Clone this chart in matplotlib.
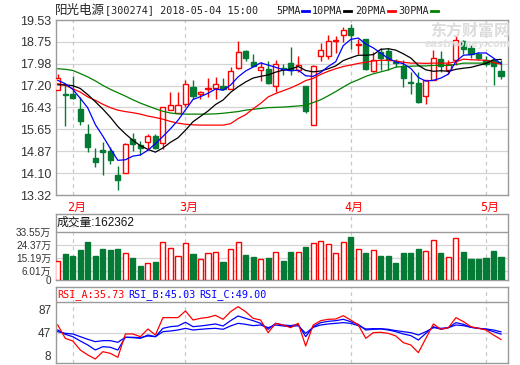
import matplotlib
matplotlib.use('Agg')
import matplotlib.pyplot as plt
import numpy as np
from matplotlib.transforms import blended_transform_factory

# ---------------- data ----------------
opens = [17.03, 16.89, 16.92, 16.37, 15.48, 14.64, 14.93, 14.88, 14.04, 14.11,
         15.31, 15.11, 15.19, 15.40, 15.17, 16.32, 16.24, 16.54, 17.15, 16.89,
         17.07, 17.13, 17.18, 17.09, 17.83, 18.44, 18.04, 17.77, 17.78, 17.18,
         17.81, 18.00, 17.74, 17.19, 15.79, 18.24, 18.24, 18.80, 18.99, 19.25,
         18.64, 18.84, 17.71, 18.39, 18.42, 18.05, 17.89, 17.32, 17.31, 16.82,
         17.41, 18.15, 17.77, 18.12, 18.79, 18.54, 18.34, 18.10, 18.10, 17.72]
highs = [17.60, 17.27, 17.54, 16.80, 15.85, 14.99, 15.20, 15.02, 14.35, 15.16,
         15.52, 15.24, 15.50, 15.47, 16.45, 16.96, 16.96, 17.41, 17.41, 17.01,
         17.47, 17.50, 17.47, 17.86, 18.79, 18.48, 18.34, 18.03, 18.09, 18.10,
         17.98, 18.57, 18.26, 17.19, 17.92, 18.73, 18.99, 18.96, 19.28, 19.40,
         18.87, 18.84, 18.38, 18.54, 18.54, 18.15, 18.10, 17.68, 17.68, 17.41,
         18.48, 18.42, 18.12, 18.96, 18.83, 18.63, 18.39, 18.25, 18.16, 18.12]
lows = [17.03, 15.76, 16.74, 15.81, 14.84, 14.31, 14.04, 14.43, 13.51, 14.11,
        14.87, 14.75, 14.93, 14.96, 14.95, 16.32, 16.24, 16.44, 16.71, 16.73,
        16.80, 16.74, 17.03, 17.09, 17.80, 18.09, 17.89, 17.35, 17.27, 16.99,
        17.57, 17.57, 17.68, 16.23, 15.79, 18.06, 18.16, 18.37, 18.75, 18.49,
        18.34, 17.74, 17.68, 17.74, 17.74, 17.85, 17.15, 16.92, 16.58, 16.54,
        17.39, 17.68, 17.60, 17.92, 18.31, 18.19, 18.10, 17.90, 17.24, 17.45]
closes = [17.47, 16.86, 16.76, 15.95, 15.02, 14.49, 14.83, 14.57, 13.85, 15.12,
          15.14, 15.00, 15.42, 15.00, 16.43, 16.50, 16.50, 17.27, 16.83, 16.96,
          17.11, 17.25, 17.07, 17.72, 18.39, 18.19, 17.91, 17.86, 17.31, 17.96,
          17.79, 17.74, 17.95, 16.30, 17.89, 18.45, 18.79, 18.82, 19.16, 18.99,
          18.67, 17.78, 18.12, 18.19, 18.10, 18.00, 17.47, 17.28, 16.62, 17.41,
          18.17, 17.89, 17.98, 18.83, 18.51, 18.31, 18.19, 17.98, 17.89, 17.54]

ma5 = [17.39, 17.27, 17.07, 16.75, 16.41, 15.82, 15.41, 14.97, 14.55, 14.57,
       14.70, 14.74, 14.91, 15.14, 15.40, 15.67, 15.97, 16.34, 16.71, 16.81,
       16.93, 17.08, 17.04, 17.22, 17.51, 17.72, 17.86, 18.01, 17.93, 17.85,
       17.77, 17.73, 17.75, 17.55, 17.53, 17.67, 17.88, 18.05, 18.62, 18.84,
       18.89, 18.68, 18.54, 18.35, 18.17, 18.04, 17.98, 17.81, 17.49, 17.36,
       17.39, 17.47, 17.61, 18.06, 18.28, 18.30, 18.36, 18.36, 18.18, 17.98]
ma10 = [17.23, 17.23, 17.20, 17.10, 16.88, 16.63, 16.37, 16.08, 15.75, 15.49,
        15.26, 15.07, 14.94, 14.84, 14.99, 15.19, 15.35, 15.62, 15.92, 16.11,
        16.30, 16.53, 16.69, 16.96, 17.16, 17.33, 17.47, 17.53, 17.58, 17.68,
        17.75, 17.79, 17.88, 17.74, 17.69, 17.72, 17.80, 17.90, 18.09, 18.19,
        18.28, 18.28, 18.30, 18.49, 18.51, 18.46, 18.33, 18.18, 17.92, 17.76,
        17.71, 17.73, 17.71, 17.78, 17.82, 17.85, 17.92, 17.99, 18.12, 18.13]
ma20 = [17.27, 17.21, 17.09, 16.97, 16.80, 16.68, 16.54, 16.42, 16.33, 16.28,
        16.24, 16.19, 16.12, 16.07, 16.01, 15.93, 15.87, 15.83, 15.81, 15.80,
        15.80, 15.80, 15.80, 15.85, 16.03, 16.17, 16.38, 16.57, 16.80, 16.92,
        17.02, 17.12, 17.24, 17.38, 17.46, 17.60, 17.71, 17.80, 17.88, 17.93,
        17.99, 18.03, 18.08, 18.10, 18.10, 18.08, 18.03, 18.00, 18.00, 17.99,
        18.00, 18.00, 18.00, 18.05, 18.14, 18.12, 18.11, 18.10, 18.02, 17.96]
ma30 = [17.80, 17.78, 17.74, 17.63, 17.51, 17.37, 17.21, 17.07, 16.95, 16.83,
        16.70, 16.58, 16.48, 16.38, 16.29, 16.23, 16.20, 16.19, 16.19, 16.19,
        16.19, 16.20, 16.22, 16.25, 16.28, 16.33, 16.36, 16.39, 16.42, 16.43,
        16.44, 16.46, 16.48, 16.50, 16.60, 16.70, 16.84, 16.99, 17.15, 17.30,
        17.41, 17.53, 17.62, 17.69, 17.76, 17.86, 17.88, 17.89, 17.90, 17.90,
        17.92, 17.92, 17.92, 17.95, 18.00, 18.00, 18.00, 18.00, 18.01, 18.02]

volumes = [133000, 182000, 168000, 210000, 266000, 168000, 217000, 210000, 219000, 186000,
           156000, 100000, 116000, 126000, 263000, 224000, 165000, 256000, 182000, 144000,
           186000, 193000, 126000, 214000, 263000, 175000, 161000, 147000, 156000, 193000,
           133000, 196000, 196000, 231000, 256000, 270000, 249000, 186000, 263000, 301000,
           214000, 189000, 207000, 168000, 168000, 119000, 189000, 189000, 217000, 200000,
           277000, 189000, 158000, 291000, 196000, 147000, 147000, 156000, 203000, 162362]

rsi_a = [60.9, 37.7, 33.1, 17.4, 8.7, 1.8, 14.5, 11.6, 4.7, 45.3,
         45.3, 40.6, 54.0, 43.5, 73.7, 73.7, 73.7, 85.3, 69.6, 72.5,
         74.2, 77.7, 70.8, 84.1, 92.8, 84.1, 72.5, 69.6, 47.6, 63.8,
         60.9, 56.3, 63.8, 24.4, 60.9, 68.4, 70.8, 71.3, 77.1, 69.6,
         60.9, 37.7, 47.6, 48.2, 46.4, 41.8, 30.2, 26.1, 12.8, 37.7,
         62.7, 53.4, 56.3, 73.7, 66.7, 58.0, 55.1, 52.2, 43.5, 35.73]
rsi_b = [52.2, 44.7, 40.6, 33.1, 26.1, 17.4, 23.2, 22.1, 17.4, 39.5,
         38.9, 37.7, 43.5, 40.6, 55.1, 58.0, 59.2, 65.6, 58.0, 59.2,
         60.9, 62.7, 59.2, 68.4, 76.6, 72.5, 68.4, 63.8, 53.4, 63.8,
         60.9, 59.8, 62.1, 40.6, 58.0, 65.0, 67.3, 68.4, 70.8, 66.7,
         62.1, 52.2, 53.4, 54.0, 52.2, 49.3, 45.3, 42.4, 34.8, 46.4,
         58.0, 53.4, 56.3, 65.0, 62.1, 56.9, 55.1, 53.4, 49.3, 45.03]
rsi_c = [49.3, 46.4, 45.3, 40.6, 36.0, 31.9, 33.7, 33.7, 30.8, 39.5,
         39.5, 38.9, 41.8, 40.6, 49.3, 50.5, 52.2, 55.1, 52.2, 53.4,
         54.5, 55.1, 53.4, 59.2, 63.8, 62.1, 59.8, 60.9, 56.3, 60.9,
         59.2, 58.0, 59.8, 46.4, 56.9, 60.9, 62.7, 63.8, 65.0, 63.8,
         59.8, 54.0, 54.5, 54.5, 53.4, 51.1, 49.3, 47.6, 43.5, 49.3,
         56.3, 55.1, 56.3, 60.9, 59.8, 56.9, 55.1, 54.0, 52.2, 49.00]

price_ticks = [13.32, 14.10, 14.87, 15.65, 16.43, 17.20, 17.98, 18.75, 19.53]
vol_ticks = [0, 6.01, 15.19, 24.37, 33.55]          # in 万
vol_tick_labels = ['0', '6.01万', '15.19万', '24.37万', '33.55万']
rsi_ticks = [8, 47, 87]
month_idx = [2, 17, 39, 57]
month_labels = ['2月', '3月', '4月', '5月']
stock_name = '阳光电源'
stock_info = '[300274] 2018-05-04 15:00'

# ---------------- style ----------------
W, H = 520, 365
RED = '#ff0000'
GREEN = '#047a35'
FRAME = '#9a9a9a'
GRID = '#d4d4d4'
MONO = ['DejaVu Sans Mono', 'Noto Sans CJK SC']
CJK = ['Noto Sans CJK SC', 'DejaVu Sans']
SANS = ['Liberation Sans', 'Noto Sans CJK SC']

fig = plt.figure(figsize=(W / 100, H / 100), dpi=100)
fig.patch.set_facecolor('white')


def rect(top, bottom, left=55.5, right=508.0):
    return [left / W, 1 - bottom / H, (right - left) / W, (bottom - top) / H]


def fx(px):
    return px / W


def fy(py):
    return 1 - py / H


ax = fig.add_axes(rect(20, 195))
axv = fig.add_axes(rect(214, 280))
axr = fig.add_axes(rect(287, 363))

n = len(closes)
x = np.arange(n)
o = np.array(opens)
c = np.array(closes)
hi = np.array(highs)
lo = np.array(lows)
up = c > o
cols = np.where(up, RED, GREEN)
BW = 0.68

for a in (ax, axv, axr):
    a.set_xlim(-0.3, n - 0.07)
    a.set_xticks([])
    for s in a.spines.values():
        s.set_color(FRAME)
        s.set_linewidth(1.0)
    for m in month_idx:
        a.axvline(m, color='#c8c8c8', lw=0.9, ls=(0, (3, 3)), zorder=0.5)
    a.tick_params(axis='y', length=0, pad=3)
    a.set_facecolor('white')

# ---------------- main price panel ----------------
ax.set_ylim(price_ticks[0], price_ticks[-1])
ax.set_yticks(price_ticks)
ax.set_yticklabels([f'{t:.2f}' for t in price_ticks], fontsize=9,
                   family=SANS, color='#333333')
for t in price_ticks[1:-1]:
    ax.axhline(t, color=GRID, lw=0.9, zorder=0.4)

ax.vlines(x, lo, hi, colors=cols, lw=1.0, zorder=2)
body_bottom = np.minimum(o, c)
body_h = np.maximum(np.abs(c - o), 0.012)
ax.bar(x, body_h, bottom=body_bottom, width=BW,
       color=np.where(up, 'white', GREEN), edgecolor=cols, linewidth=1.0, zorder=3)

ax.plot(x, ma30, color='#008000', lw=0.9, zorder=4)
ax.plot(x, ma20, color=RED, lw=0.9, zorder=4)
ax.plot(x, ma10, color='black', lw=0.9, zorder=4)
ax.plot(x, ma5, color='#0000ff', lw=0.9, zorder=4)

# watermark
fig.text(fx(470), fy(31), '东方财富网', family=CJK, fontsize=11.5, fontweight='bold',
         color='#dcdcdc', ha='center', va='center', zorder=0)
fig.text(fx(468), fy(44), 'eastmoney.com', family='DejaVu Sans', fontsize=7,
         fontstyle='italic', fontweight='bold', color='#e0e0e0', ha='center', va='center')

# month labels
tr = blended_transform_factory(ax.transData, ax.transAxes)
for m, lab in zip(month_idx, month_labels):
    ax.text(m + 0.47, -12 / 175, lab, transform=tr, color=RED, fontsize=8.5,
            family=MONO, ha='center', va='center')

# title + legend
fig.text(fx(55), fy(10.5), stock_name, family=CJK, fontsize=9, va='center', ha='left', color='#222222')
fig.text(fx(105), fy(10.5), stock_info, family=MONO, fontsize=7.3, va='center', ha='left', color='#222222')
legend_items = [('5PMA', 276, '#0000ff'), ('10PMA', 311.5, 'black'),
                ('20PMA', 355.5, RED), ('30PMA', 398.5, '#008000')]
for lab, px, col in legend_items:
    t = fig.text(fx(px), fy(10.5), lab, family=MONO, fontsize=7.3, va='center', ha='left', color='#222222')
    x0 = px + len(lab) * 6.0 + 2
    fig.add_artist(plt.Line2D([fx(x0), fx(x0 + 7)], [fy(11), fy(11)], color=col, lw=2.0))

# ---------------- volume panel ----------------
vol_w = np.array(volumes) / 10000.0
vtop = vol_ticks[-1] * 66.0 / 48.0
axv.set_ylim(0, vtop)
axv.set_yticks(vol_ticks)
axv.set_yticklabels(vol_tick_labels, fontsize=7.2, family=SANS, color='#333333')
for t in vol_ticks[1:-1]:
    axv.axhline(t, color=GRID, lw=0.9, zorder=0.4)
axv.axhline(vol_ticks[-1], color=FRAME, lw=1.0, zorder=5)
axv.bar(x, vol_w, width=BW, color=np.where(up, 'white', GREEN), edgecolor=cols,
        linewidth=1.0, zorder=3)
fig.text(fx(57), fy(223), f'成交量:{volumes[-1]}', family=SANS, fontsize=8.5,
         va='center', ha='left', color='#111111')

# ---------------- RSI panel ----------------
axr.set_ylim(-5.2, 127)
axr.set_yticks(rsi_ticks)
axr.set_yticklabels([str(t) for t in rsi_ticks], fontsize=8.5, family=SANS, color='#333333')
axr.axhline(47, color=GRID, lw=0.9, zorder=0.4)
axr.axhline(87 + 8 / 0.575, color=FRAME, lw=1.0, zorder=5)
axr.plot(x, rsi_c, color='#0000ff', lw=0.9, zorder=3)
axr.plot(x, rsi_b, color='#0000ff', lw=0.9, zorder=3)
axr.plot(x, rsi_a, color=RED, lw=0.9, zorder=4)
rsi_titles = [(f'RSI_A:{rsi_a[-1]:.2f}', 57.3, RED),
              (f'RSI_B:{rsi_b[-1]:.2f}', 128.3, '#0000ff'),
              (f'RSI_C:{rsi_c[-1]:.2f}', 199.5, '#0000ff')]
for lab, px, col in rsi_titles:
    fig.text(fx(px), fy(294.5), lab, family=MONO, fontsize=7.3, va='center', ha='left', color=col)

fig.savefig('out.png', dpi=100, facecolor='white')
